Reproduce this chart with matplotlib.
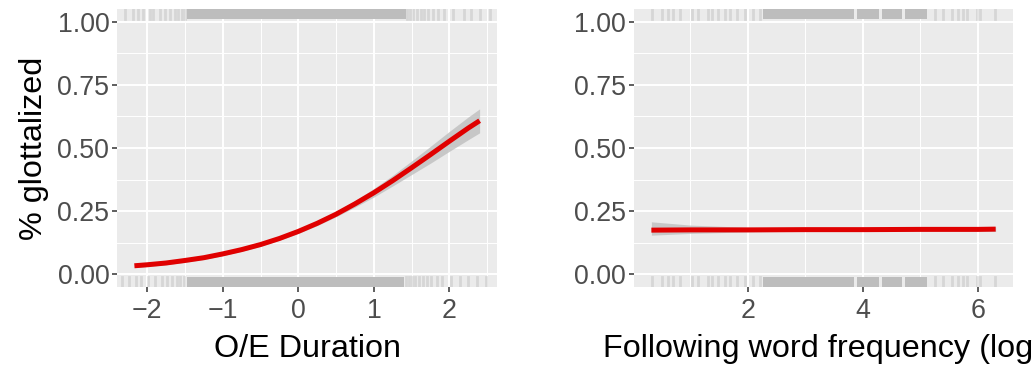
import matplotlib.pyplot as plt
import numpy as np

# Left panel: fitted curve over O/E duration, with confidence band
dur_x = [-2.17, -2.0, -1.75, -1.5, -1.25, -1.0, -0.75, -0.5, -0.25, 0.0,
         0.25, 0.5, 0.75, 1.0, 1.25, 1.5, 1.75, 2.0, 2.25, 2.4]
dur_fit = [0.034, 0.038, 0.045, 0.055, 0.066, 0.081, 0.098, 0.118, 0.142,
           0.170, 0.202, 0.238, 0.279, 0.323, 0.371, 0.422, 0.474, 0.527,
           0.579, 0.608]
dur_lo = [0.027, 0.031, 0.038, 0.048, 0.059, 0.074, 0.091, 0.111, 0.135,
          0.162, 0.193, 0.228, 0.266, 0.306, 0.350, 0.395, 0.440, 0.487,
          0.533, 0.560]
dur_hi = [0.042, 0.046, 0.053, 0.063, 0.074, 0.089, 0.106, 0.126, 0.150,
          0.178, 0.211, 0.248, 0.292, 0.340, 0.392, 0.449, 0.507, 0.566,
          0.623, 0.655]

# Rug marks (individual observations, and stretches where they merge)
dur_rug_top = [-2.29, -2.19, -2.12, -2.05, -1.96, -1.92, -1.83, -1.76,
               -1.70, -1.63, -1.59, -1.54, -1.50, 1.44, 1.48, 1.52, 1.57,
               1.62, 1.66, 1.71, 1.78, 1.85, 1.93, 2.05, 2.19, 2.28, 2.41,
               2.54]
dur_span_top = [(-1.47, 1.42)]
dur_rug_bot = [-2.33, -2.24, -2.15, -2.08, -1.99, -1.90, -1.81, -1.74,
               -1.67, -1.61, -1.56, -1.51, 1.42, 1.46, 1.51, 1.55, 1.60,
               1.65, 1.70, 1.76, 1.83, 1.90, 2.02, 2.14, 2.25, 2.37, 2.49]
dur_span_bot = [(-1.47, 1.40)]

# Right panel: fitted line over following word frequency
freq_x = [0.32, 1.0, 2.0, 3.0, 4.0, 5.0, 6.0, 6.31]
freq_fit = [0.175, 0.176, 0.176, 0.177, 0.177, 0.178, 0.178, 0.179]
freq_lo = [0.155, 0.162, 0.168, 0.171, 0.172, 0.172, 0.171, 0.170]
freq_hi = [0.208, 0.195, 0.186, 0.183, 0.182, 0.184, 0.186, 0.188]

freq_rug_top = [0.33, 0.50, 0.61, 0.70, 0.82, 1.03, 1.13, 1.30, 1.37,
                1.48, 1.60, 1.69, 1.81, 1.95, 2.09, 2.21, 5.25, 5.39, 5.55,
                5.65, 5.74, 5.81, 5.98, 6.03, 6.30]
freq_span_top = [(2.26, 3.84), (3.90, 4.28), (4.33, 4.68), (4.73, 5.11)]
freq_rug_bot = [0.33, 0.50, 0.61, 0.70, 0.82, 1.03, 1.13, 1.30, 1.37,
                1.48, 1.60, 1.69, 1.81, 1.95, 2.09, 2.21, 5.25, 5.39, 5.55,
                5.65, 5.74, 5.81, 5.98, 6.03, 6.30]
freq_span_bot = [(2.26, 3.84), (3.90, 4.28), (4.33, 4.68), (4.73, 5.11)]

y_ticks = [0.0, 0.25, 0.5, 0.75, 1.0]
y_labels = ['0.00', '0.25', '0.50', '0.75', '1.00']

plt.rcParams['font.family'] = ['Liberation Sans', 'DejaVu Sans']
plt.rcParams['axes.unicode_minus'] = True

fig = plt.figure(figsize=(10.32, 3.65), dpi=100)
ax1 = fig.add_axes([0.1134, 0.2137, 0.3682, 0.7616])
ax2 = fig.add_axes([0.6143, 0.2137, 0.3672, 0.7616])


def style_panel(ax, xlim, xmajor, xminor):
    # ggplot-like grey panel with white grid, no spines
    ax.set_facecolor('#ebebeb')
    for s in ax.spines.values():
        s.set_visible(False)
    ax.set_xlim(*xlim)
    ax.set_ylim(-0.05, 1.05)
    ax.set_xticks(xmajor)
    ax.set_xticks(xminor, minor=True)
    ax.set_yticks(y_ticks)
    ax.set_yticks([0.125, 0.375, 0.625, 0.875], minor=True)
    ax.set_yticklabels(y_labels)
    ax.grid(which='major', color='white', linewidth=1.4)
    ax.grid(which='minor', color='white', linewidth=0.7)
    ax.set_axisbelow(True)
    ax.tick_params(which='major', length=3.6, width=1.1, color='#333333',
                   labelsize=19.3, labelcolor='#4d4d4d', pad=2)
    ax.tick_params(axis='x', which='major', pad=4.5)
    ax.tick_params(which='minor', length=0)


def draw_rug(ax, ticks, spans, top):
    if top:
        y0, y1 = 0.963, 1.0
    else:
        y0, y1 = 0.0, 0.037
    for a, b in spans:
        ax.axvspan(a, b, ymin=y0, ymax=y1, color='#bdbdbd', lw=0,
                   zorder=2)
    for x in ticks:
        ax.axvline(x, ymin=y0, ymax=y1, color='#b0b0b0', alpha=0.35,
                   lw=2.0, zorder=2)


style_panel(ax1, (-2.4, 2.63), [-2, -1, 0, 1, 2], [-1.5, -0.5, 0.5, 1.5, 2.5])
draw_rug(ax1, dur_rug_top, dur_span_top, True)
draw_rug(ax1, dur_rug_bot, dur_span_bot, False)
ax1.fill_between(dur_x, dur_lo, dur_hi, color='#bfbfbf', alpha=0.8, lw=0,
                 zorder=3)
ax1.plot(dur_x, dur_fit, color='#e00000', lw=3.6, zorder=4,
         solid_capstyle='butt')
ax1.set_xlabel('O/E Duration', fontsize=23.3, labelpad=7)
ax1.set_ylabel('% glottalized', fontsize=23.3, labelpad=6)

style_panel(ax2, (0.017, 6.61), [2, 4, 6], [1, 3, 5])
draw_rug(ax2, freq_rug_top, freq_span_top, True)
draw_rug(ax2, freq_rug_bot, freq_span_bot, False)
ax2.fill_between(freq_x, freq_lo, freq_hi, color='#bfbfbf', alpha=0.8, lw=0,
                 zorder=3)
ax2.plot(freq_x, freq_fit, color='#e00000', lw=3.6, zorder=4,
         solid_capstyle='butt')
ax2.set_xlabel('Following word frequency (log)', fontsize=23.3, labelpad=7)

fig.savefig('out.png', dpi=100)
